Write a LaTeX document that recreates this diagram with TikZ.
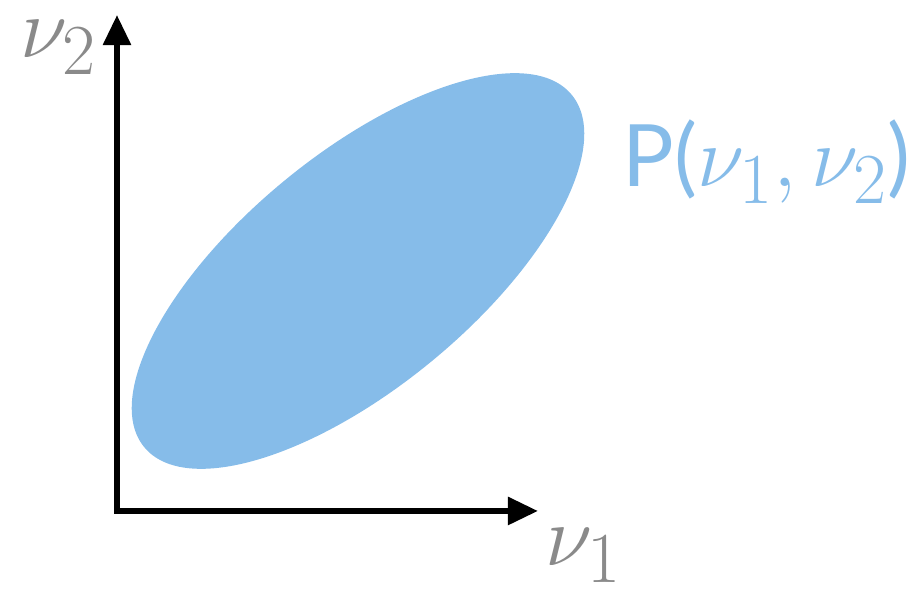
\documentclass[tikz,border=0pt]{standalone}
\usepackage{amsmath,amssymb}
\usepackage{fontspec}
\setsansfont{Lato}
\usepackage{tikz}
\usetikzlibrary{arrows.meta}

\definecolor{distblue}{HTML}{86BCE9}
\definecolor{labgray}{HTML}{8A8A8A}

\begin{document}
\begin{tikzpicture}[x=0.289pt,y=0.289pt,
  axis/.style={line width=1.73pt,line join=miter,-{Triangle[length=8.7pt,width=7.8pt]}},
  lab/.style={anchor=base west,inner sep=0pt,font=\Huge}]
 \useasboundingbox (0,0) rectangle (911,595);
 \coordinate (c) at (358,324);
 \fill[distblue,rotate around={39.5:(c)}] (c) ellipse [x radius=277,y radius=116.5];
 \coordinate (ytop) at (117,580);
 \coordinate (o) at (117,84);
 \coordinate (xend) at (538,84);
 \draw[axis] (o)--(ytop);
 \draw[axis] (o)--(xend);
 \fill (114,81) rectangle (120,87);
 \node[lab,text=labgray] (nu2) at (20,537) {$\nu_2$};
 \node[lab,text=labgray] (nu1) at (545,29) {$\nu_1$};
 \node[lab,text=distblue] (pdist) at (622,408) {\sffamily P(\rmfamily$\nu_1,\nu_2$\sffamily)};
\end{tikzpicture}
\end{document}
